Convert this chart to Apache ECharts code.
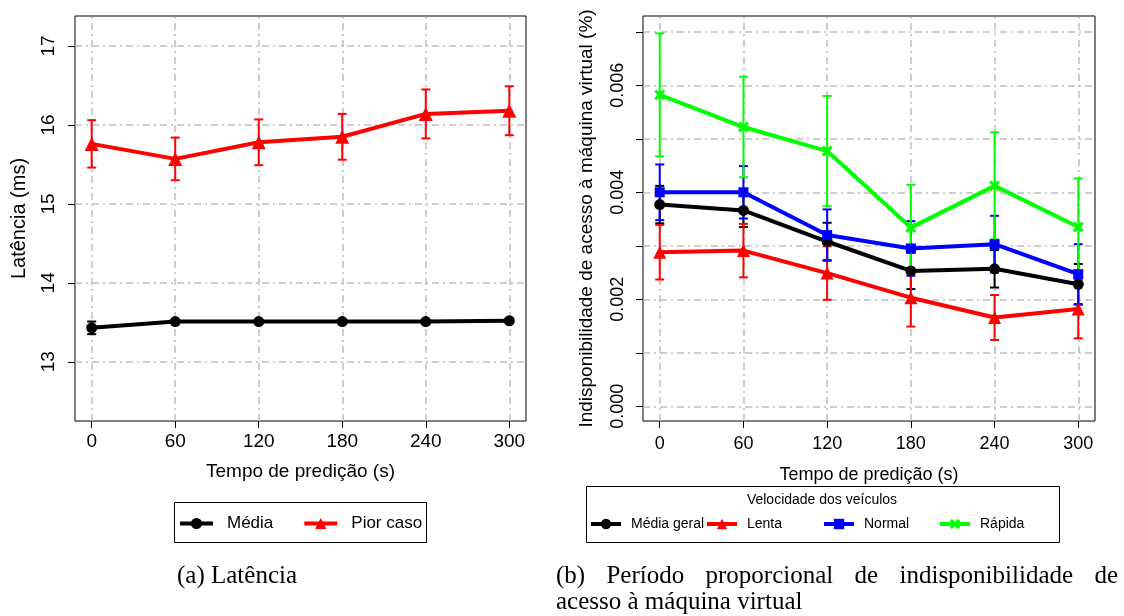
<!DOCTYPE html>
<html>
<head>
<meta charset="utf-8">
<script src="https://cdn.jsdelivr.net/npm/echarts@6/dist/echarts.min.js"></script>
<style>
  html, body { margin: 0; padding: 0; background: #fff; }
  #chart { width: 1124px; height: 616px; }
</style>
</head>
<body>
<div id="chart"></div>
<script>
// Prediction horizons (s), shared by both panels
const tempos = [0, 60, 120, 180, 240, 300];

// (a) Latency in ms: mean and worst case, with error half-widths
const latMedia = [13.43, 13.51, 13.51, 13.51, 13.51, 13.52];
const latMediaErr = [0.08, 0.02, 0.02, 0.02, 0.02, 0.02];
const latPior = [15.76, 15.57, 15.78, 15.85, 16.14, 16.18];
const latPiorErr = [0.30, 0.27, 0.29, 0.29, 0.31, 0.31];
const latTicks = [13, 14, 15, 16, 17];

// (b) Proportional VM access unavailability (%) by vehicle speed
const indMedia = [0.00377, 0.00366, 0.00308, 0.00253, 0.00257, 0.00228];
const indMediaErr = [0.00035, 0.00031, 0.00035, 0.00034, 0.00035, 0.00038];
const indLenta = [0.00288, 0.00291, 0.00249, 0.00203, 0.00166, 0.00182];
const indLentaErr = [0.00051, 0.00050, 0.00050, 0.00054, 0.00042, 0.00055];
const indNormal = [0.00400, 0.00400, 0.00320, 0.00295, 0.00303, 0.00247];
const indNormalErr = [0.00052, 0.00049, 0.00048, 0.00051, 0.00053, 0.00056];
const indRapida = [0.00582, 0.00522, 0.00477, 0.00334, 0.00412, 0.00335];
const indRapidaErr = [0.00115, 0.00094, 0.00103, 0.00080, 0.00100, 0.00091];
const indTicks = [0, 0.001, 0.002, 0.003, 0.004, 0.005, 0.006, 0.007];
const indLabels = [0, 0.002, 0.004, 0.006];

// Legend / caption texts
const legendA = ['Média', 'Pior caso'];
const legendB = ['Média geral', 'Lenta', 'Normal', 'Rápida'];
const legendBTitle = 'Velocidade dos veículos';
const captionA = '(a) Latência';
const captionB1 = '(b) Período proporcional de indisponibilidade de';
const captionB2 = 'acesso à máquina virtual';

const SANS = '"Liberation Sans", Arial, sans-serif';
const SERIF = '"Liberation Serif", "Times New Roman", serif';
const GRID_DASH = [7, 4, 2, 4];
const CROSS = 'path://M2,0 L5,3 L8,0 L10,2 L7,5 L10,8 L8,10 L5,7 L2,10 L0,8 L3,5 L0,2 Z';

const chart = echarts.init(document.getElementById('chart'), null, { renderer: 'canvas' });

function xAxisCfg(gridIndex, fontSize, labelMargin, nameGap, nameSize) {
  return {
    type: 'value', gridIndex, min: -12, max: 312,
    axisLine: { show: false, onZero: false },
    splitLine: { show: false },
    axisTick: { show: true, length: 7, customValues: tempos, lineStyle: { color: '#000', width: 1 } },
    axisLabel: { customValues: tempos, color: '#000', fontSize, margin: labelMargin, fontFamily: SANS },
    name: 'Tempo de predição (s)', nameLocation: 'middle', nameGap,
    nameTextStyle: { color: '#000', fontSize: nameSize, fontFamily: SANS }
  };
}

function yAxisCfg(gridIndex, min, max, ticks, labels, fmt, fontSize, labelMargin, name, nameGap, nameSize) {
  return {
    type: 'value', gridIndex, min, max,
    axisLine: { show: false, onZero: false },
    splitLine: { show: false },
    axisTick: { show: true, length: 7, customValues: ticks, lineStyle: { color: '#000', width: 1 } },
    axisLabel: { customValues: labels, rotate: 90, color: '#000', fontSize, margin: labelMargin,
                 fontFamily: SANS, formatter: fmt },
    name, nameLocation: 'middle', nameGap, nameRotate: 90,
    nameTextStyle: { color: '#000', fontSize: nameSize, fontFamily: SANS }
  };
}

// Vertical error bar with caps
function errorBars(name, idx, values, errs, color) {
  return {
    type: 'custom', name, xAxisIndex: idx, yAxisIndex: idx, z: 10,
    data: tempos.map((t, i) => [t, values[i] - errs[i], values[i] + errs[i]]),
    encode: { x: 0, y: [1, 2] },
    renderItem(params, api) {
      const x = api.value(0);
      const lo = api.coord([x, api.value(1)]);
      const hi = api.coord([x, api.value(2)]);
      const w = 4.5;
      const style = { stroke: color, lineWidth: 2 };
      return {
        type: 'group',
        children: [
          { type: 'line', shape: { x1: lo[0], y1: lo[1], x2: hi[0], y2: hi[1] }, style },
          { type: 'line', shape: { x1: lo[0] - w, y1: lo[1], x2: lo[0] + w, y2: lo[1] }, style },
          { type: 'line', shape: { x1: hi[0] - w, y1: hi[1], x2: hi[0] + w, y2: hi[1] }, style }
        ]
      };
    }
  };
}

function lineSeries(name, idx, values, color, symbol, size) {
  return {
    type: 'line', name, xAxisIndex: idx, yAxisIndex: idx, z: 11,
    data: tempos.map((t, i) => [t, values[i]]),
    symbol, symbolSize: size, showSymbol: true,
    lineStyle: { color, width: 4 },
    itemStyle: { color, borderWidth: 0 },
    emphasis: { disabled: true }
  };
}

// Dash-dot reference grid drawn at the tick positions
function gridLines(idx, yTicks) {
  return {
    type: 'line', name: 'grade' + idx, xAxisIndex: idx, yAxisIndex: idx, z: 1,
    data: [], silent: true,
    markLine: {
      silent: true, symbol: ['none', 'none'], animation: false, precision: 8, z: 1,
      label: { show: false },
      emphasis: { disabled: true },
      lineStyle: { color: '#bebebe', width: 1.5, type: GRID_DASH },
      data: tempos.map(t => ({ xAxis: t })).concat(yTicks.map(v => ({ yAxis: v })))
    }
  };
}

const legendLine = { width: 4 };

function legendItem(name, left, top, fontSize, iconW, iconH, textPad) {
  return {
    data: [name], left, top, orient: 'horizontal', padding: 0,
    itemWidth: iconW, itemHeight: iconH, selectedMode: false,
    lineStyle: legendLine,
    textStyle: { color: '#000', fontSize, fontFamily: SANS, padding: [0, 0, 0, textPad] }
  };
}

const capFont = '25px ' + SERIF;

function captionText(text, x, y, align) {
  return { type: 'text', x, y, silent: true,
           style: { text, font: capFont, fill: '#000', textAlign: align, textVerticalAlign: 'middle' } };
}

// Justified first caption line for panel (b)
function justifiedWords(text, x0, x1, y) {
  const ctx = document.createElement('canvas').getContext('2d');
  ctx.font = capFont;
  const words = text.split(' ');
  const widths = words.map(w => ctx.measureText(w).width);
  const total = widths.reduce((a, b) => a + b, 0);
  const gap = (x1 - x0 - total) / (words.length - 1);
  let x = x0;
  return words.map((w, i) => {
    const el = captionText(w, x, y, 'left');
    x += widths[i] + gap;
    return el;
  });
}

const option = {
  animation: false,
  backgroundColor: '#fff',
  grid: [
    { left: 75, top: 16, right: 598, bottom: 195, show: true, borderColor: '#000', borderWidth: 1, backgroundColor: 'transparent' },
    { left: 643, top: 16, right: 29, bottom: 195, show: true, borderColor: '#000', borderWidth: 1, backgroundColor: 'transparent' }
  ],
  xAxis: [
    xAxisCfg(0, 19, 11, 41, 19),
    xAxisCfg(1, 18, 14, 45, 18)
  ],
  yAxis: [
    yAxisCfg(0, 12.25, 17.38, latTicks, latTicks, v => String(v), 19, 17, 'Latência (ms)', 46, 20),
    yAxisCfg(1, -0.000275, 0.007295, indTicks, indLabels, v => v.toFixed(3), 18, 16, 'Indisponibilidade de acesso à máquina virtual (%)', 47, 19)
  ],
  legend: [
    {
      data: legendA, left: 178, top: 515, padding: 0, itemGap: 29,
      itemWidth: 33, itemHeight: 14, selectedMode: false,
      lineStyle: legendLine,
      textStyle: { color: '#000', fontSize: 17, fontFamily: SANS, padding: [0, 0, 0, 9] }
    },
    legendItem(legendB[0], 589, 517, 14, 30, 13, 5),
    legendItem(legendB[1], 705, 517, 14, 30, 13, 5),
    legendItem(legendB[2], 822, 517, 14, 30, 13, 5),
    legendItem(legendB[3], 938, 517, 14, 30, 13, 5)
  ],
  graphic: [
    { type: 'rect', shape: { x: 174.5, y: 502.5, width: 252, height: 40 }, style: { fill: 'none', stroke: '#000', lineWidth: 1 }, silent: true },
    { type: 'rect', shape: { x: 586.5, y: 486.5, width: 473, height: 56 }, style: { fill: 'none', stroke: '#000', lineWidth: 1 }, silent: true },
    { type: 'text', x: 822, y: 500, silent: true, style: { text: legendBTitle, font: '14px ' + SANS, fill: '#000', textAlign: 'center', textVerticalAlign: 'middle' } },
    captionText(captionA, 237, 576, 'center'),
    ...justifiedWords(captionB1, 556, 1118, 576),
    captionText(captionB2, 556, 602, 'left')
  ],
  series: [
    gridLines(0, latTicks),
    gridLines(1, indTicks),

    errorBars('Média (erro)', 0, latMedia, latMediaErr, '#000000'),
    errorBars('Pior caso (erro)', 0, latPior, latPiorErr, '#ff0000'),
    lineSeries('Média', 0, latMedia, '#000000', 'circle', 11),
    lineSeries('Pior caso', 0, latPior, '#ff0000', 'triangle', 14),

    errorBars('Média geral (erro)', 1, indMedia, indMediaErr, '#000000'),
    errorBars('Lenta (erro)', 1, indLenta, indLentaErr, '#ff0000'),
    errorBars('Normal (erro)', 1, indNormal, indNormalErr, '#0000ff'),
    errorBars('Rápida (erro)', 1, indRapida, indRapidaErr, '#00ff00'),
    lineSeries('Média geral', 1, indMedia, '#000000', 'circle', 11),
    lineSeries('Lenta', 1, indLenta, '#ff0000', 'triangle', 13),
    lineSeries('Normal', 1, indNormal, '#0000ff', 'rect', 10),
    lineSeries('Rápida', 1, indRapida, '#00ff00', CROSS, 11)
  ]
};

chart.setOption(option);
</script>
</body>
</html>
